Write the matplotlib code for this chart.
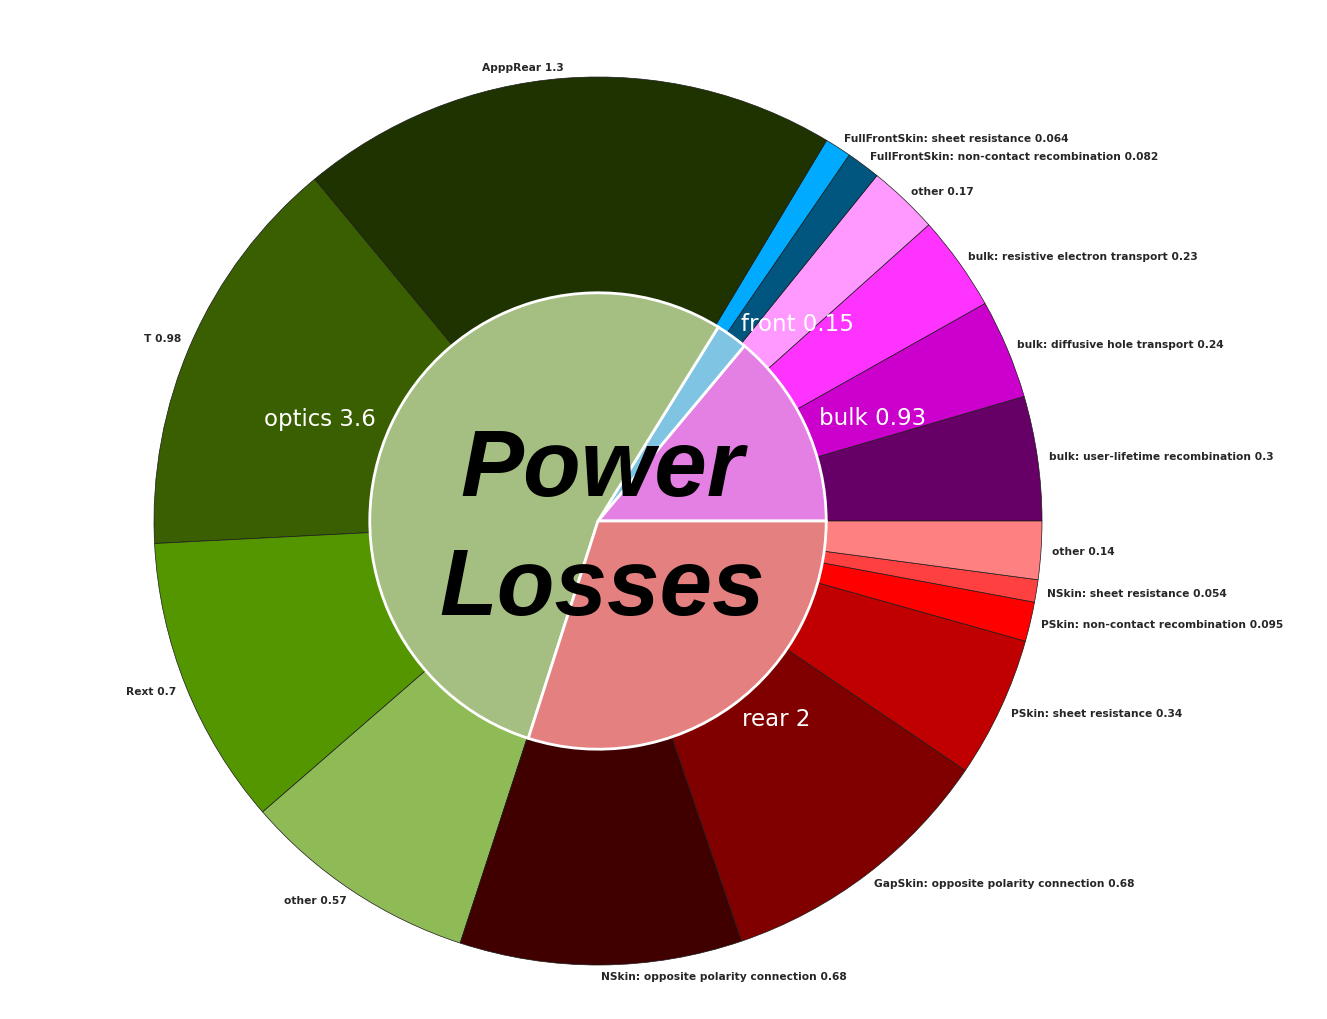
import matplotlib
matplotlib.use("Agg")
import matplotlib.pyplot as plt

# Inner ring (categories)
inner_labels = ["bulk", "front", "optics", "rear"]
inner_values = [0.93, 0.15, 3.6, 2.0]
inner_value_text = ["0.93", "0.15", "3.6", "2"]
inner_colors = ["#e480e4", "#80c4e4", "#a5be82", "#e48080"]

# Outer ring (breakdown), counter-clockwise from 3 o'clock
outer_labels = [
    "bulk: user-lifetime recombination", "bulk: diffusive hole transport",
    "bulk: resistive electron transport", "other",
    "FullFrontSkin: non-contact recombination", "FullFrontSkin: sheet resistance",
    "ApppRear", "T", "Rext", "other",
    "NSkin: opposite polarity connection", "GapSkin: opposite polarity connection",
    "PSkin: sheet resistance", "PSkin: non-contact recombination",
    "NSkin: sheet resistance", "other",
]
outer_values = [0.3, 0.24, 0.23, 0.17,
                0.082, 0.064,
                1.3, 0.98, 0.7, 0.57,
                0.68, 0.68, 0.34, 0.095, 0.054, 0.14]
outer_value_text = ["0.3", "0.24", "0.23", "0.17",
                    "0.082", "0.064",
                    "1.3", "0.98", "0.7", "0.57",
                    "0.68", "0.68", "0.34", "0.095", "0.054", "0.14"]
outer_colors = ["#660066", "#cc00cc", "#ff33ff", "#ff99ff",
                "#00567f", "#00aaff",
                "#1e3300", "#3a5f00", "#539600", "#8fbb57",
                "#400000", "#800000", "#c00000", "#ff0000", "#ff4040", "#ff8080"]

fig = plt.figure(figsize=(13.27, 10.20), dpi=100)
ax = fig.add_axes([0, 0, 1, 1])

R = 1.0
r_in = 0.514

ax.pie(outer_values, radius=R, colors=outer_colors, startangle=0,
       counterclock=True,
       labels=[f"{l} {v}" for l, v in zip(outer_labels, outer_value_text)],
       labeldistance=1.025,
       wedgeprops=dict(edgecolor="#1a1a1a", linewidth=0.5),
       textprops=dict(fontsize=7.7, fontweight="bold", color="#262626",
                      family="DejaVu Sans"))

ax.pie(inner_values, radius=r_in, colors=inner_colors, startangle=0,
       counterclock=True,
       labels=[f"{l} {v}" for l, v in zip(inner_labels, inner_value_text)],
       labeldistance=1.07,
       wedgeprops=dict(edgecolor="white", linewidth=2),
       textprops=dict(fontsize=16.5, color="white", family="DejaVu Sans"))

ax.text(0.01, -0.02, "Power\nLosses", ha="center", va="center",
        fontsize=68, fontweight="bold", fontstyle="italic",
        family="Liberation Sans", color="black", linespacing=1.43)

ax.set_xlim(-598 / 444, (1327 - 598) / 444)
ax.set_ylim(-(1020 - 522) / 444, 522 / 444)
ax.set_aspect("equal", adjustable="box")
ax.axis("off")

fig.savefig("out.png", dpi=100, facecolor="white")
